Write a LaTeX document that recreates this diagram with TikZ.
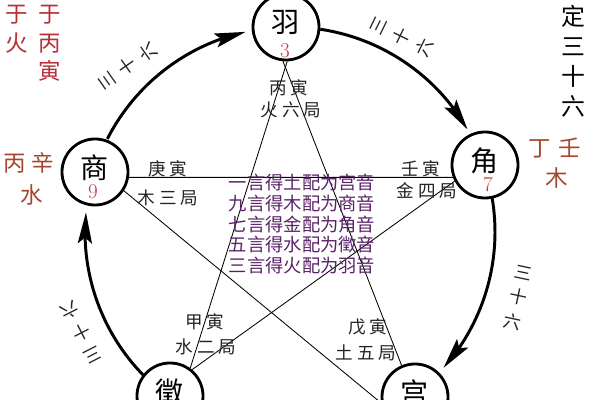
\documentclass[tikz,border=0pt]{standalone}
\usepackage{fontspec}
\newfontfamily\cjk{Noto Sans CJK SC}
\usetikzlibrary{arrows.meta,bending}
\definecolor{numred}{RGB}{200,60,60}
\definecolor{cornerred}{RGB}{185,45,55}
\definecolor{brownred}{RGB}{165,70,45}
\definecolor{rulepurple}{RGB}{90,35,105}
\definecolor{inkgray}{RGB}{35,35,35}
\newcommand\sg{\hspace{0.22em}}
\begin{document}
\begin{tikzpicture}[x=0.025cm,y=-0.025cm,
  tone/.style={circle,draw=black,line width=2pt,minimum size=1.65cm,inner sep=0pt,fill=white,text depth=8pt,font=\cjk\fontsize{20}{20}\selectfont},
  num/.style={inner sep=0pt,text=numred,font=\fontsize{15}{15}\selectfont},
  ju/.style={inner sep=0pt,text=inkgray,font=\cjk\fontsize{12.5}{13}\selectfont},
  rules/.style={inner sep=0pt,align=center,text=rulepurple,font=\cjk\fontsize{13}{14.6}\selectfont},
  ring/.style={line width=2.1pt,-{Stealth[length=22pt,width=10pt,inset=4pt]}},
  star/.style={line width=0.6pt},
  arclab/.style={inner sep=0pt,align=center,text=inkgray,font=\cjk\fontsize{12.5}{18}\selectfont},
  corner/.style={inner sep=0pt,align=center,font=\cjk\fontsize{16}{20.3}\selectfont},
]
\path[use as bounding box, clip] (0,0) rectangle (600,400);
\fill[white] (0,0) rectangle (600,400);
\coordinate (O) at (290,232);

% tone circles
\node[tone] (yu) at (286,27) {羽};
\node[tone] (shang) at (95,172) {商};
\node[tone] (jiao) at (485,165) {角};
\node[tone] (zhi) at (170,396) {徵};
\node[tone] (gong) at (415,397) {宫};

% numbers
\node[num] (n3) at (285,51) {3};
\node[num] (n9) at (93,192) {9};
\node[num] (n7) at (488,185) {7};

% pentagram lines
\draw[star] (shang.-9) -- (jiao.201);
\draw[star] (shang.-33) -- (gong.190);
\draw[star] (yu.-88) -- (zhi.54);
\draw[star] (yu.-95) -- (gong.113);
\draw[star] (jiao.208) -- (zhi.50);

% outer ring arcs
\draw[ring] (O) ++(207:205) arc[start angle=207,end angle=257.5,radius=205];
\draw[ring] (O) ++(278.5:205) arc[start angle=278.5,end angle=330,radius=205];
\draw[ring] (O) ++(350.5:205) arc[start angle=350.5,end angle=401.5,radius=205];
\draw[ring] (O) ++(135.5:205) arc[start angle=135.5,end angle=185.5,radius=205];

% arc labels
\node[arclab,rotate=125] (a1) at (128,66) {三\\十\\六};
\node[arclab,rotate=64] (a2) at (402,37) {三\\十\\六};
\node[arclab,rotate=-12] (a3) at (518,298) {三\\十\\六};
\node[arclab,rotate=207] (a4) at (81,332) {三\\十\\六};

% ju labels
\node[ju] (l1a) at (289,88) {丙\sg 寅};
\node[ju] (l1b) at (291,110) {火\sg 六\sg 局};
\node[ju] (l2a) at (168,169) {庚\sg 寅};
\node[ju] (l2b) at (168,198) {木\sg 三\sg 局};
\node[ju] (l3a) at (421,169) {壬\sg 寅};
\node[ju] (l3b) at (427,191) {金\sg 四\sg 局};
\node[ju] (l4a) at (205,322) {甲\sg 寅};
\node[ju] (l4b) at (206,347) {水\sg 二\sg 局};
\node[ju] (l5a) at (368,327) {戊\sg 寅};
\node[ju] (l5b) at (366,353) {土\sg 五\sg 局};

% central rules
\node[rules] (rules) at (302,224) {一言得土配为宫音\\九言得木配为商音\\七言得金配为角音\\五言得水配为徵音\\三言得火配为羽音};

% corner texts
\node[corner,text=cornerred] (c1) at (17,29) {于\\火};
\node[corner,text=cornerred] (c2) at (50,43.5) {于\\丙\\寅};
\node[corner,text=brownred] (c3) at (29,163) {丙\hspace{4pt}辛};
\node[corner,text=brownred] (c4) at (32,195) {水};
\node[corner,text=brownred] (c5) at (555,148) {丁\hspace{5pt}壬};
\node[corner,text=brownred] (c6) at (557,178) {木};
\node[corner,text=black,font=\cjk\fontsize{17}{21.3}\selectfont] (c7) at (573,61) {定\\三\\十\\六};
\end{tikzpicture}
\end{document}
